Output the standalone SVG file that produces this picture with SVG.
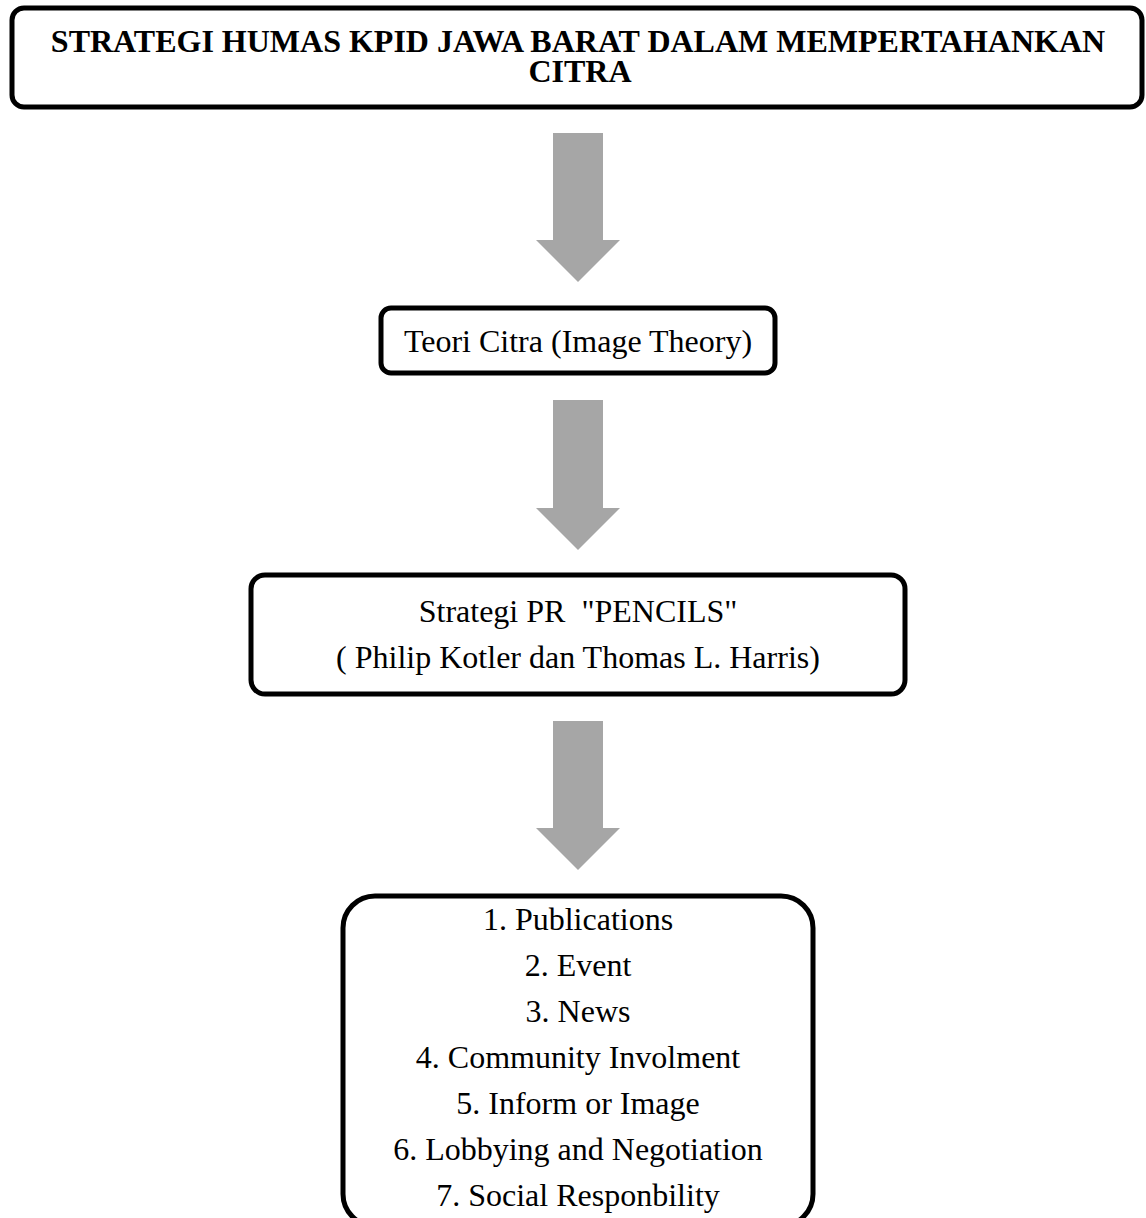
<svg xmlns="http://www.w3.org/2000/svg" width="1146" height="1218" viewBox="0 0 1146 1218">
<style>
.box{fill:#fff;stroke:#000;stroke-width:5}
.t{font-family:"Liberation Serif","Times New Roman",serif;font-size:32px;fill:#000;text-anchor:middle}
.b{font-weight:bold}
.arr{fill:#a6a6a6}
</style>
<rect width="1146" height="1218" fill="#fff"/>
<g id="connectors">
<path class="arr" d="M553,133H603V240H620L578,282L536,240H553Z"/>
<path class="arr" d="M553,400H603V508H620L578,550L536,508H553Z"/>
<path class="arr" d="M553,721H603V828H620L578,870L536,828H553Z"/>
</g>
<g id="title">
<rect class="box" x="12" y="8" width="1130" height="99" rx="12"/>
<text class="t b" x="578" y="52">STRATEGI HUMAS KPID JAWA BARAT DALAM MEMPERTAHANKAN</text>
<text class="t b" x="580" y="82">CITRA</text>
</g>
<g id="teori">
<rect class="box" x="381" y="308" width="394" height="65" rx="10"/>
<text class="t" x="578" y="352">Teori Citra (Image Theory)</text>
</g>
<g id="pencils">
<rect class="box" x="251" y="575" width="654" height="119" rx="14"/>
<text class="t" x="578" y="622" xml:space="preserve">Strategi PR  "PENCILS"</text>
<text class="t" x="578" y="668">( Philip Kotler dan Thomas L. Harris)</text>
</g>
<g id="list">
<rect class="box" x="343" y="896" width="470" height="330" rx="32"/>
<text class="t" x="578" y="930">1. Publications</text>
<text class="t" x="578" y="976">2. Event</text>
<text class="t" x="578" y="1022">3. News</text>
<text class="t" x="578" y="1068">4. Community Involment</text>
<text class="t" x="578" y="1114">5. Inform or Image</text>
<text class="t" x="578" y="1160">6. Lobbying and Negotiation</text>
<text class="t" x="578" y="1206">7. Social Responbility</text>
</g>
</svg>
